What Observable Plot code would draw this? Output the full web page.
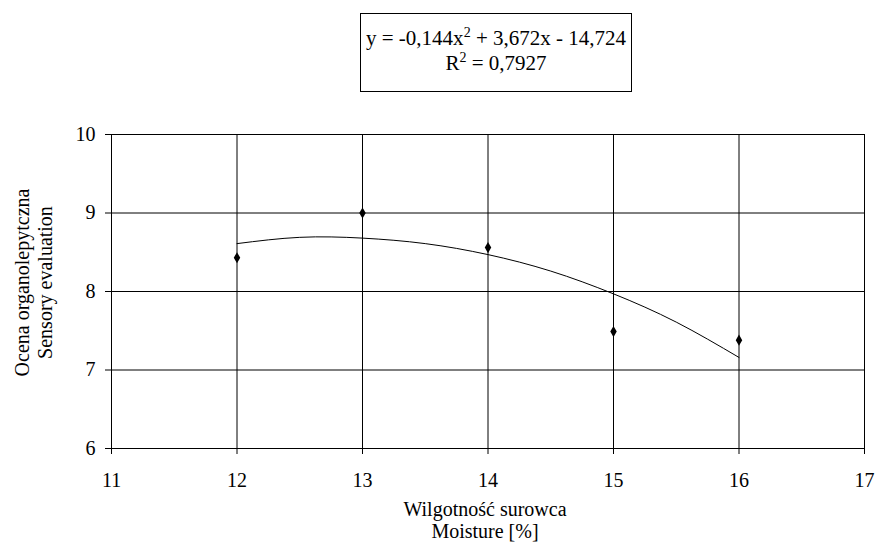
<!DOCTYPE html>
<html>
<head>
<meta charset="utf-8">
<script src="https://cdn.jsdelivr.net/npm/d3@7"></script>
<script src="https://cdn.jsdelivr.net/npm/@observablehq/plot@0.6"></script>
<style>
  html, body { margin: 0; padding: 0; background: #fff; }
  #wrap { position: relative; width: 878px; height: 547px; }
  #wrap svg, #wrap svg text { font-family: "Liberation Serif", "Times New Roman", serif !important; }
  #eq { position: absolute; left: 360px; top: 13px; width: 272px; height: 79px; border: 1px solid #000; box-sizing: border-box;
        font-family: "Liberation Serif", "Times New Roman", serif; font-size: 21px; text-align: center; line-height: 25px; padding-top: 12px; color: #000; background: #fff; white-space: nowrap; }
  #eq sup { font-size: 14px; line-height: 0; vertical-align: 0; position: relative; top: -8px; }
</style>
</head>
<body>
<div id="wrap">
  <div id="eq">y = -0,144x<sup>2</sup> + 3,672x - 14,724<br>R<sup>2</sup> = 0,7927</div>
</div>
<script>
// Observed data
const moisture = [12, 13, 14, 15, 16];
const sensory = [8.43, 9.0, 8.56, 7.49, 7.38];
// Trendline
const trendX = [12, 12.5, 13, 13.5, 14, 14.5, 15, 15.5, 16];
const trendY = [8.61, 8.69, 8.68, 8.61, 8.47, 8.26, 7.97, 7.61, 7.16];
const xTicks = [11, 12, 13, 14, 15, 16, 17];
const yTicks = [6, 7, 8, 9, 10];
const xLabel = "Wilgotność surowca\nMoisture [%]";
const yLabel = "Ocena organolepytczna\nSensory evaluation";

const points = moisture.map((m, i) => ({x: m, y: sensory[i]}));
const trend = trendX.map((m, i) => ({x: m, y: trendY[i]}));

const chart = Plot.plot({
  width: 878,
  height: 547,
  marginLeft: 111,
  marginRight: 14,
  marginTop: 134,
  marginBottom: 99,
  style: {fontFamily: "'Liberation Serif', 'Times New Roman', serif", fontSize: "20px", color: "#000", background: "transparent"},
  x: {domain: [11, 17], label: null},
  y: {domain: [6, 10], label: null},
  marks: [
    Plot.gridX(xTicks, {stroke: "#000", strokeOpacity: 1, strokeWidth: 1}),
    Plot.gridY(yTicks, {stroke: "#000", strokeOpacity: 1, strokeWidth: 1}),
    Plot.frame({stroke: "#000", strokeWidth: 1}),
    Plot.axisX({ticks: xTicks, tickSize: 6, tickPadding: 18, fontSize: 20, tickFormat: d => String(d), label: null}),
    Plot.axisY({ticks: yTicks, tickSize: 6, tickPadding: 10, fontSize: 20, tickFormat: d => String(d), label: null}),
    Plot.line(trend, {x: "x", y: "y", stroke: "#000", strokeWidth: 1, curve: "natural"}),
    Plot.dot(points, {x: "x", y: "y", symbol: "diamond", fill: "#000", r: 3.4}),
    Plot.text([xLabel], {frameAnchor: "bottom", dy: 71, dx: -3, lineAnchor: "middle", textAnchor: "middle", text: d => d, lineHeight: 1.1, fontSize: 20, fill: "#000"}),
    Plot.text([yLabel], {frameAnchor: "left", dx: -78, dy: -9, rotate: -90, lineAnchor: "middle", textAnchor: "middle", text: d => d, lineHeight: 1.15, fontSize: 20, fill: "#000"})
  ]
});
document.getElementById("wrap").prepend(chart);
chart.style.position = "absolute";
chart.style.left = "0";
chart.style.top = "0";
</script>
</body>
</html>
